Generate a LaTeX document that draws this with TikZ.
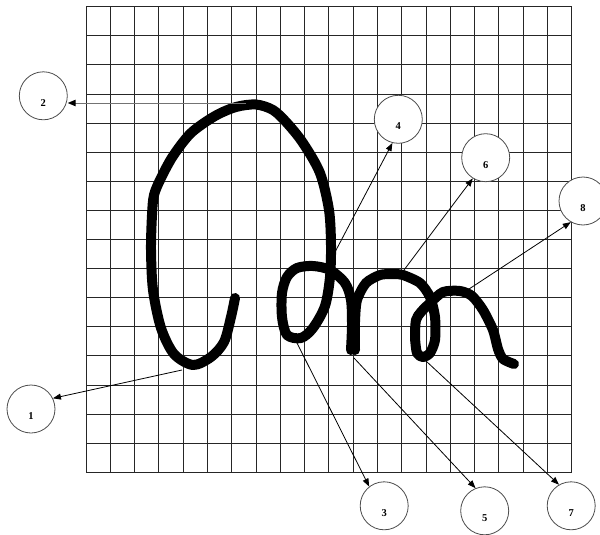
\documentclass[tikz,border=0pt]{standalone}
\usepackage{fontspec}
\setmainfont{Liberation Serif}
\usetikzlibrary{arrows.meta}
\tikzset{
  gridline/.style={line width=0.9pt, black!85},
  ink/.style={line width=10pt, line cap=round, line join=round, black},
  circ/.style={circle, draw=black!70, line width=0.8pt, fill=white, minimum size=48pt, inner sep=0pt},
  num/.style={font=\fontsize{10.5}{12}\selectfont\bfseries, inner sep=0pt},
  arr/.style={line width=0.8pt, black, -{Triangle[length=8pt,width=6pt]}},
  garr/.style={line width=1pt, black!55, -{Triangle[length=8pt,width=6.5pt,color=black]}}
}
\begin{document}
\begin{tikzpicture}[x=1pt,y=-1pt]
\useasboundingbox (0,0) rectangle (600,535);
% grid 20 x 16
\foreach \i in {0,...,20} {
  \draw[gridline] ({86+24.285*\i},6.7) -- ({86+24.285*\i},472.3);
}
\foreach \j in {0,...,16} {
  \draw[gridline] (86,{6.7+29.1*\j}) -- (571.7,{6.7+29.1*\j});
}
% handwriting stroke
\draw[ink] plot[smooth, tension=0.5] coordinates {
  (235,298) (231,317) (224,342) (211,357) (193,365) (174,354) (161,328)
  (153,290) (151,250) (152,215) (154,195) (161,178) (173,156) (191,133)
  (215,116) (236,107) (256,104.5) (273,110) (287,123) (303,143) (320,173) (329,210)
  (331,245) (330,277) (325,306) (313,328) (301,338) (287,335) (282,317)
  (282,293) (287,277) (297,268) (313,266) (330,270) (345,283) (351,300)
  (352,325) (351,350)};
\draw[ink] plot[smooth, tension=0.45] coordinates {
  (355,350) (355,322) (357,300) (366,283) (380,275) (393,274) (403,275)
  (420,283) (430,297) (435,317) (435,340) (430,353) (423,357) (417,353)
  (415,337) (416,320) (421,312) (430,303) (443,292) (460,291) (472,296)
  (483,310) (493,330) (498,349) (503,359) (514,364)};
% anchor points on the stroke
\coordinate (p1) at (182,370);
\coordinate (p2) at (246,103);
\coordinate (p3) at (296,341);
\coordinate (p4) at (334,254);
\coordinate (p5) at (354,358);
\coordinate (p6) at (401,274);
\coordinate (p7) at (426,361);
\coordinate (p8) at (466,291);
% numbered circles
\node[circ] (n1) at (31,409) {};
\node[circ] (n2) at (43.3,95.8) {};
\node[circ] (n3) at (384.2,505.8) {};
\node[circ] (n4) at (398.3,119.3) {};
\node[circ] (n5) at (484.7,510.8) {};
\node[circ] (n6) at (485.7,157.7) {};
\node[circ] (n7) at (571.2,505.8) {};
\node[circ] (n8) at (583,201) {};
\foreach \k in {1,...,8} {
  \node[num] (t\k) at ([yshift=-7pt]n\k.center) {\k};
}
% connectors
\draw[arr] (p1) -- (n1.26);
\draw[garr] (p2) -- (p2 -| n2.east);
\draw[arr] (p3) -- (n3.128);
\draw[arr] (p4) -- (n4.256);
\draw[arr] (p5) -- (n5.112);
\draw[arr] (p6) -- (n6.238);
\draw[arr] (p7) -- (n7.120);
\draw[arr] (p8) -- (n8.240);
\end{tikzpicture}
\end{document}
